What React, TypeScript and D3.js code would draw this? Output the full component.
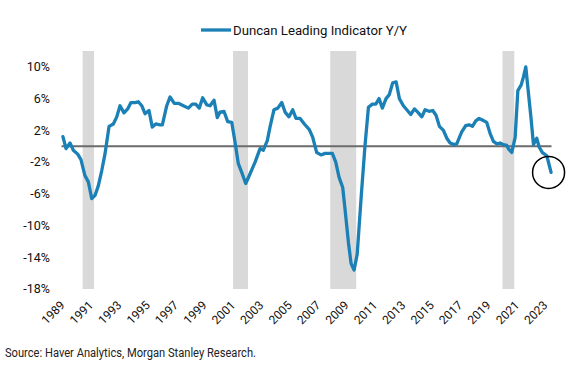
import React from "react";
import * as d3 from "d3";

// decimal years and Y/Y % values
const years = [
  1989.1, 1989.32, 1989.6, 1989.83, 1990.14, 1990.37, 1990.65, 1990.89, 1991.13,
  1991.36, 1991.59, 1991.83, 1992.06, 1992.35, 1992.65, 1992.89, 1993.12, 1993.4, 1993.66,
  1993.89, 1994.18, 1994.41, 1994.65, 1994.88, 1995.16, 1995.39, 1995.63, 1995.94, 1996.1,
  1996.41, 1996.64, 1996.94, 1997.23, 1997.58, 1997.93, 1998.21, 1998.45, 1998.7, 1998.94,
  1999.23, 1999.46, 1999.74, 1999.97, 2000.16, 2000.44, 2000.7, 2000.99, 2001.22, 2001.45,
  2001.73, 2001.97, 2002.27, 2002.63, 2002.98, 2003.21, 2003.49, 2003.68, 2003.96, 2004.23,
  2004.51, 2004.74, 2005.02, 2005.28, 2005.51, 2005.8, 2006.1, 2006.45, 2006.69, 2006.97,
  2007.27, 2007.56, 2007.84, 2008.07, 2008.31, 2008.54, 2008.8, 2008.96, 2009.2, 2009.39,
  2009.6, 2009.82, 2010.1, 2010.37, 2010.61, 2010.89, 2011.13, 2011.36, 2011.59, 2011.85,
  2012.08, 2012.32, 2012.56, 2012.79, 2013.07, 2013.31, 2013.59, 2013.85, 2014.13, 2014.37,
  2014.6, 2014.88, 2015.14, 2015.37, 2015.61, 2015.89, 2016.13, 2016.36, 2016.64, 2016.83,
  2017.06, 2017.18, 2017.46, 2017.7, 2017.93, 2018.17, 2018.4, 2018.63, 2018.94, 2019.18,
  2019.41, 2019.65, 2019.88, 2020.11, 2020.35, 2020.46, 2020.7, 2020.94, 2021.13, 2021.36,
  2021.52, 2021.69, 2021.87, 2022.06, 2022.23, 2022.46, 2022.63, 2022.86, 2023.17, 2023.47,
];
const values = [
  1.2, -0.3, 0.4, -0.5, -1.0, -1.7, -3.7, -4.5, -6.6,
  -6.2, -5.0, -3.1, -1.0, 2.5, 2.8, 3.7, 5.1, 4.2, 4.7,
  5.5, 5.5, 5.6, 5.1, 4.1, 4.5, 2.4, 2.8, 2.7, 2.7,
  5.1, 6.2, 5.4, 5.4, 5.1, 4.8, 5.3, 5.3, 4.8, 6.1,
  5.2, 5.1, 5.8, 3.6, 4.3, 4.4, 3.1, 3.0, 0.5, -2.2,
  -3.5, -4.7, -3.5, -2.0, -0.3, -0.5, 0.7, 2.4, 4.6, 4.8,
  5.5, 4.3, 3.7, 4.6, 3.5, 3.5, 2.8, 2.1, 1.1, -0.8,
  -1.1, -0.9, -0.9, -0.9, -2.0, -3.9, -5.2, -7.9, -12.1, -14.8,
  -15.6, -13.6, -6.4, 0.1, 4.9, 5.3, 5.3, 6.0, 4.8, 6.0,
  6.5, 8.0, 8.1, 6.0, 5.1, 4.6, 4.0, 4.7, 4.2, 3.7,
  4.6, 4.4, 4.5, 3.9, 2.5, 2.0, 1.0, 0.4, 0.2, 0.3,
  1.3, 1.8, 2.6, 2.7, 2.5, 3.2, 3.5, 3.3, 3.0, 1.6,
  0.6, 0.3, 0.4, 0.2, 0.1, -0.3, -0.8, 1.1, 7.0, 7.7,
  8.7, 10.0, 6.8, 3.5, 0.2, 1.0, -0.1, -0.8, -1.2, -3.3,
];

const recessionStarts = [1990.49, 2001.08, 2007.92, 2020.05];
const recessionEnds = [1991.29, 2002.13, 2009.75, 2020.88];

const yTicks = [10, 6, 2, -2, -6, -10, -14, -18];
const xTickYears = d3.range(1989, 2024, 2);

const seriesName = "Duncan Leading Indicator Y/Y";
const source = "Source: Haver Analytics, Morgan Stanley Research.";

const width = 571;
const height = 368;
const plot = { left: 61.5, right: 551.5, top: 51, bottom: 289 };
const blue = "#1a80b6";
const font = "Roboto, 'Open Sans', sans-serif";

export default function App() {
  const x = d3.scaleLinear().domain([1989, 2023.5]).range([plot.left, plot.right]);
  const y = d3.scaleLinear().domain([-18, 12]).range([plot.bottom, plot.top]);

  const points = years.map((yr, i) => [yr, values[i]] as [number, number]);
  const line = d3
    .line<[number, number]>()
    .x((d) => x(d[0]))
    .y((d) => y(d[1]));

  const last = points[points.length - 1];

  return (
    <div style={{ position: "absolute", left: 0, top: 0 }}>
      <svg width={width} height={height} style={{ display: "block", fontFamily: font }}>
        <rect width={width} height={height} fill="#fff" />

        {recessionStarts.map((s, i) => (
          <rect
            key={"r" + i}
            x={x(s)}
            y={plot.top}
            width={x(recessionEnds[i]) - x(s)}
            height={plot.bottom - plot.top}
            fill="#d9d9d9"
          />
        ))}

        <line x1={plot.left} x2={plot.right} y1={y(0)} y2={y(0)} stroke="#6b6b6b" strokeWidth={2} />

        <path
          d={line(points) || ""}
          fill="none"
          stroke={blue}
          strokeWidth={3.3}
          strokeLinejoin="round"
          strokeLinecap="round"
        />

        <circle
          cx={x(last[0]) - 2.5}
          cy={y(last[1])}
          r={16}
          fill="none"
          stroke="#000"
          strokeWidth={1.5}
        />

        {yTicks.map((t) => (
          <text
            key={"y" + t}
            x={50}
            y={y(t)}
            dy="0.35em"
            textAnchor="end"
            fontSize={12.5}
            fill="#111"
          >
            {t + "%"}
          </text>
        ))}

        {xTickYears.map((yr) => (
          <text
            key={"x" + yr}
            transform={`translate(${x(yr) + 4},306) rotate(-45)`}
            textAnchor="end"
            fontSize={12}
            fill="#111"
          >
            {yr}
          </text>
        ))}

        <line x1={201} x2={231} y1={30} y2={30} stroke={blue} strokeWidth={3.3} />
        <text x={233} y={34.5} fontSize={13.2} fill="#111">
          {seriesName}
        </text>

        <text
          x={5}
          y={357}
          fontSize={12}
          fill="#222"
          textLength={251}
          lengthAdjust="spacingAndGlyphs"
        >
          {source}
        </text>
      </svg>
    </div>
  );
}
